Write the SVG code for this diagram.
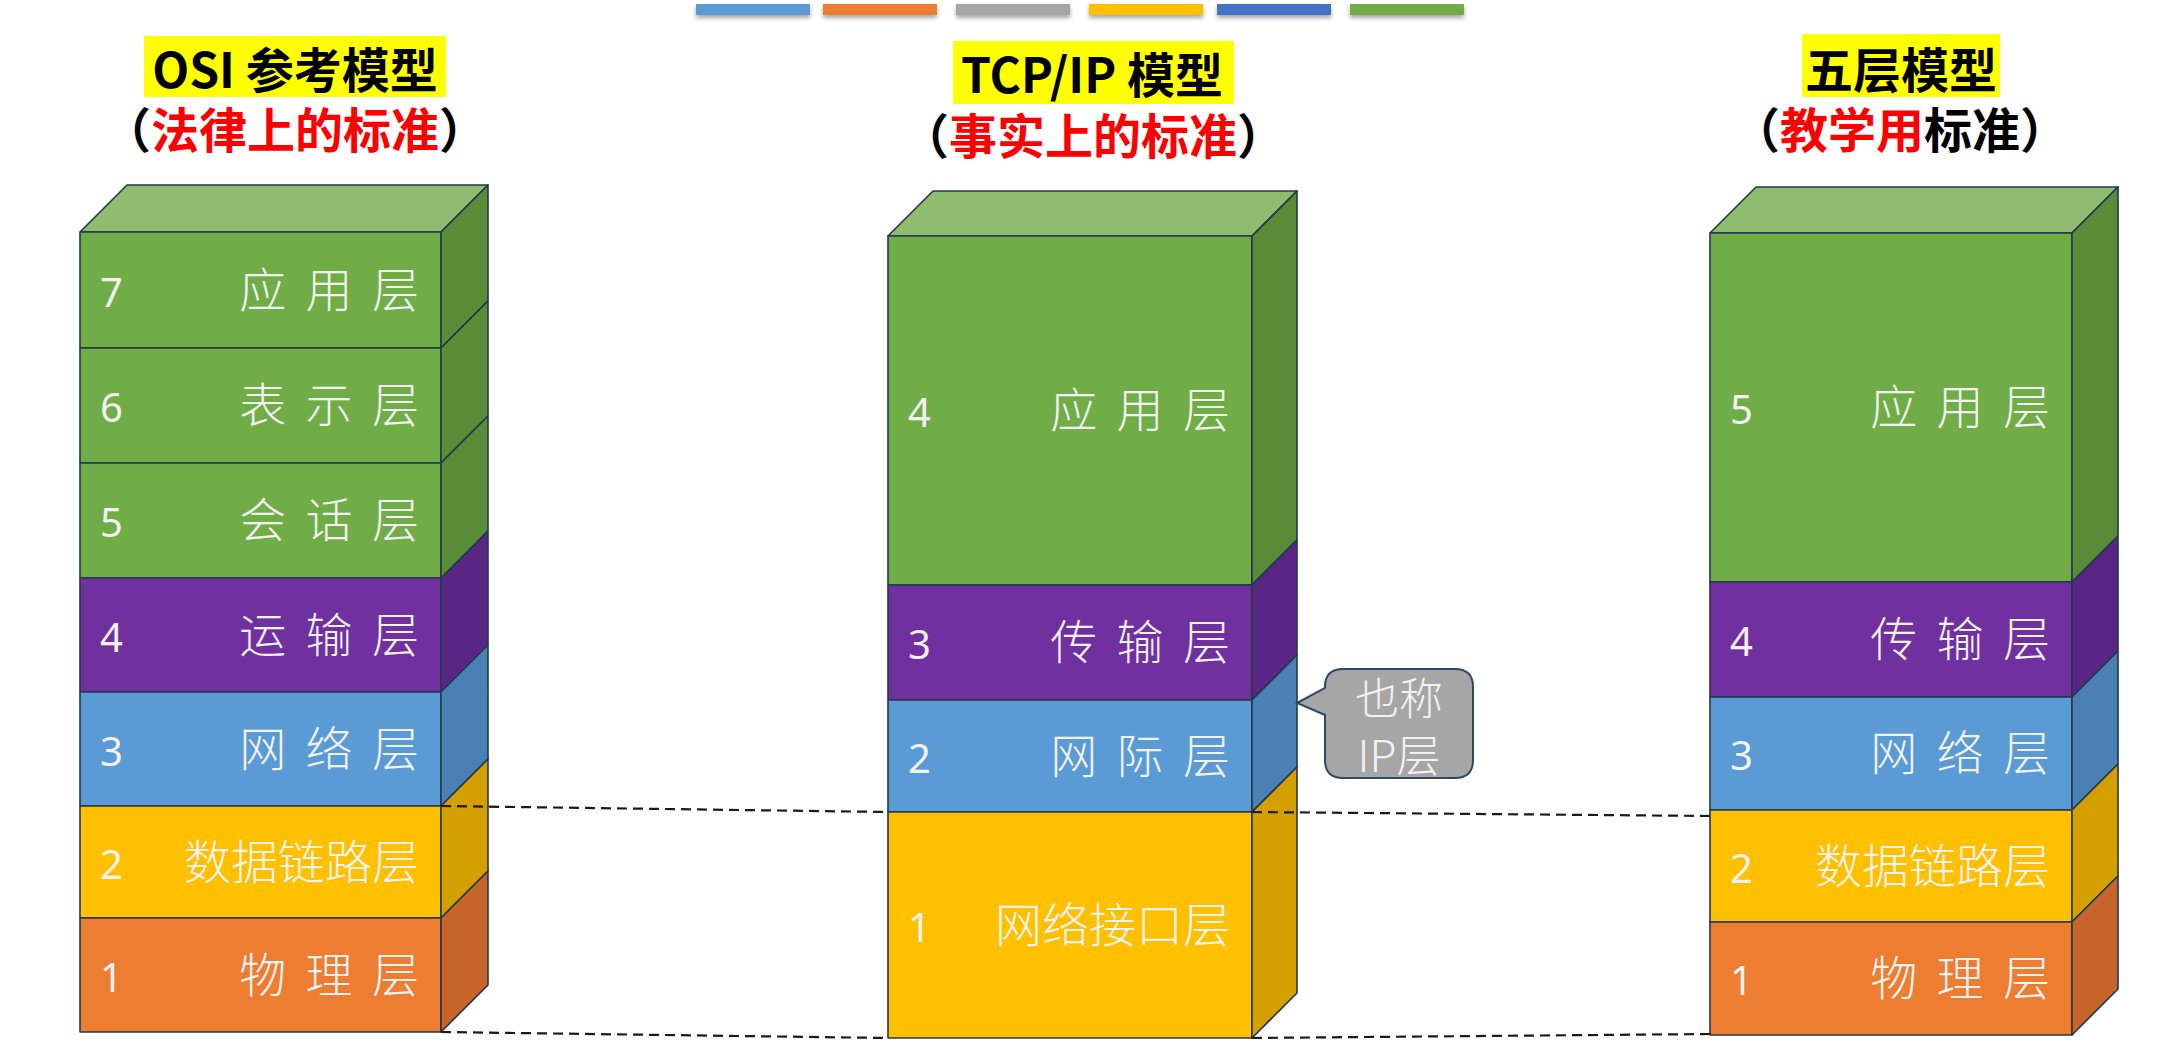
<svg xmlns="http://www.w3.org/2000/svg" width="2169" height="1041" viewBox="0 0 2169 1041">
<defs>
<filter id="sh" x="-10%" y="-50%" width="120%" height="250%">
<feDropShadow dx="0" dy="3" stdDeviation="2" flood-color="#000" flood-opacity="0.35"/>
</filter>
<style>
.edge{stroke:#22384c;stroke-width:1.6;stroke-linejoin:round}
.g{fill:#70ad47}.gs{fill:#5a8c38}.gt{fill:#90bc6f}
.p{fill:#7030a0}.ps{fill:#5a2685}
.b{fill:#5b9bd5}.bs{fill:#4a80b4}
.y{fill:#ffc000}.ys{fill:#d3a000}
.o{fill:#ed7d31}.os{fill:#c7642a}
.num{font-family:"Noto Sans","Noto Sans CJK SC",sans-serif;font-size:40px;fill:#f2f2f2}
.nm{font-family:"Noto Sans CJK SC","Noto Sans CJK TC",sans-serif;font-size:47px;font-weight:300;fill:#f2f2f2;text-anchor:end;word-spacing:9px}
.t1{font-family:"Noto Sans CJK SC","Noto Sans CJK TC",sans-serif;font-size:48px;font-weight:700;fill:#000;text-anchor:middle}
.hl{fill:#ffff00}
.red{fill:#ff0000}
.dash{stroke:#1a1a1a;stroke-width:2.2;stroke-dasharray:10 6;fill:none}
.co{font-family:"Noto Sans CJK SC","Noto Sans CJK TC",sans-serif;font-size:44px;font-weight:300;fill:#f2f2f2;text-anchor:middle}
</style>
</defs>
<rect width="2169" height="1041" fill="#ffffff"/>

<g id="colorbar" filter="url(#sh)">
<rect x="696" y="4" width="114" height="11" fill="#5b9bd5"/>
<rect x="823" y="4" width="114" height="11" fill="#ed7d31"/>
<rect x="956" y="4" width="114" height="11" fill="#a5a5a5"/>
<rect x="1089" y="4" width="114" height="11" fill="#ffc000"/>
<rect x="1217" y="4" width="114" height="11" fill="#4472c4"/>
<rect x="1350" y="4" width="114" height="11" fill="#70ad47"/>
</g>

<g id="title-osi">
<rect class="hl" x="144" y="36" width="302" height="61"/>
<text class="t1" x="295" y="88">OSI 参考模型</text>
<text class="t1" x="295" y="148">（<tspan class="red">法律上的标准</tspan>）</text>
</g>
<g id="title-tcpip">
<rect class="hl" x="953" y="41" width="281" height="63"/>
<text class="t1" x="1092" y="93">TCP/IP 模型</text>
<text class="t1" x="1093" y="154">（<tspan class="red">事实上的标准</tspan>）</text>
</g>
<g id="title-five">
<rect class="hl" x="1802" y="34" width="198" height="63"/>
<text class="t1" x="1901" y="88">五层模型</text>
<text class="t1" x="1900" y="148">（<tspan class="red">教学用</tspan>标准）</text>
</g>

<g id="osi">
<polygon class="gt edge" points="80,232 127,185 488,185 441,232"/>
<g id="osi-7"><rect class="g edge" x="80" y="232" width="361" height="116"/><polygon class="gs edge" points="441,232 488,185 488,301 441,348"/><text class="num" x="100" y="307">7</text><text class="nm" x="419" y="307">应 用 层</text></g>
<g id="osi-6"><rect class="g edge" x="80" y="348" width="361" height="115"/><polygon class="gs edge" points="441,348 488,301 488,416 441,463"/><text class="num" x="100" y="422">6</text><text class="nm" x="419" y="422">表 示 层</text></g>
<g id="osi-5"><rect class="g edge" x="80" y="463" width="361" height="115"/><polygon class="gs edge" points="441,463 488,416 488,531 441,578"/><text class="num" x="100" y="537">5</text><text class="nm" x="419" y="537">会 话 层</text></g>
<g id="osi-4"><rect class="p edge" x="80" y="578" width="361" height="114"/><polygon class="ps edge" points="441,578 488,531 488,645 441,692"/><text class="num" x="100" y="652">4</text><text class="nm" x="419" y="652">运 输 层</text></g>
<g id="osi-3"><rect class="b edge" x="80" y="692" width="361" height="114"/><polygon class="bs edge" points="441,692 488,645 488,759 441,806"/><text class="num" x="100" y="766">3</text><text class="nm" x="419" y="766">网 络 层</text></g>
<g id="osi-2"><rect class="y edge" x="80" y="806" width="361" height="112"/><polygon class="ys edge" points="441,806 488,759 488,871 441,918"/><text class="num" x="100" y="879">2</text><text class="nm" x="419" y="879">数据链路层</text></g>
<g id="osi-1"><rect class="o edge" x="80" y="918" width="361" height="114"/><polygon class="os edge" points="441,918 488,871 488,985 441,1032"/><text class="num" x="100" y="992">1</text><text class="nm" x="419" y="992">物 理 层</text></g>
</g>

<g id="tcpip">
<polygon class="gt edge" points="888,236 933,191 1297,191 1252,236"/>
<g id="tcp-4"><rect class="g edge" x="888" y="236" width="364" height="349"/><polygon class="gs edge" points="1252,236 1297,191 1297,540 1252,585"/><text class="num" x="908" y="427">4</text><text class="nm" x="1230" y="427">应 用 层</text></g>
<g id="tcp-3"><rect class="p edge" x="888" y="585" width="364" height="115"/><polygon class="ps edge" points="1252,585 1297,540 1297,655 1252,700"/><text class="num" x="908" y="659">3</text><text class="nm" x="1230" y="659">传 输 层</text></g>
<g id="tcp-2"><rect class="b edge" x="888" y="700" width="364" height="112"/><polygon class="bs edge" points="1252,700 1297,655 1297,767 1252,812"/><text class="num" x="908" y="773">2</text><text class="nm" x="1230" y="773">网 际 层</text></g>
<g id="tcp-1"><rect class="y edge" x="888" y="812" width="364" height="226"/><polygon class="ys edge" points="1252,812 1297,767 1297,993 1252,1038"/><text class="num" x="908" y="942">1</text><text class="nm" x="1230" y="942">网络接口层</text></g>
</g>

<g id="five">
<polygon class="gt edge" points="1710,233 1756,187 2118,187 2072,233"/>
<g id="five-5"><rect class="g edge" x="1710" y="233" width="362" height="349"/><polygon class="gs edge" points="2072,233 2118,187 2118,536 2072,582"/><text class="num" x="1730" y="424">5</text><text class="nm" x="2050" y="424">应 用 层</text></g>
<g id="five-4"><rect class="p edge" x="1710" y="582" width="362" height="115"/><polygon class="ps edge" points="2072,582 2118,536 2118,651 2072,697"/><text class="num" x="1730" y="656">4</text><text class="nm" x="2050" y="656">传 输 层</text></g>
<g id="five-3"><rect class="b edge" x="1710" y="697" width="362" height="113"/><polygon class="bs edge" points="2072,697 2118,651 2118,764 2072,810"/><text class="num" x="1730" y="770">3</text><text class="nm" x="2050" y="770">网 络 层</text></g>
<g id="five-2"><rect class="y edge" x="1710" y="810" width="362" height="112"/><polygon class="ys edge" points="2072,810 2118,764 2118,876 2072,922"/><text class="num" x="1730" y="883">2</text><text class="nm" x="2050" y="883">数据链路层</text></g>
<g id="five-1"><rect class="o edge" x="1710" y="922" width="362" height="113"/><polygon class="os edge" points="2072,922 2118,876 2118,989 2072,1035"/><text class="num" x="1730" y="995">1</text><text class="nm" x="2050" y="995">物 理 层</text></g>
</g>

<g id="connectors">
<line class="dash" x1="441" y1="806" x2="888" y2="812"/>
<line class="dash" x1="441" y1="1032" x2="888" y2="1038"/>
<line class="dash" x1="1252" y1="812" x2="1710" y2="816"/>
<line class="dash" x1="1252" y1="1038" x2="1710" y2="1034"/>
</g>

<g id="callout">
<path d="M1343,669 H1455 Q1473,669 1473,687 V760 Q1473,778 1455,778 H1343 Q1325,778 1325,760 V715 L1297,703 L1325,688 V687 Q1325,669 1343,669 Z" fill="#a6a6a6" stroke="#2e4a62" stroke-width="2"/>
<text class="co" x="1399" y="715">也称</text>
<text class="co" x="1399" y="772">IP层</text>
</g>
</svg>
